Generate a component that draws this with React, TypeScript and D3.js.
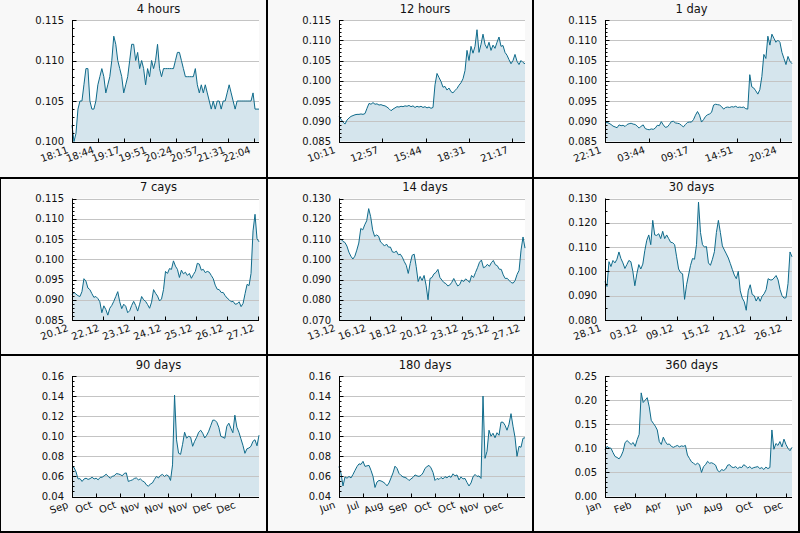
import React from "react";
import * as d3 from "d3";

const FONT = "'DejaVu Sans', Verdana, sans-serif";
const LINE = "#0f6b8b";
const FILL = "#d5e5ed";
const GRID = "#c4c4c4";
const BG = "#f8f8f8";

// Prices in thousandths (0.001), sampled evenly across each window
const hours4 = [102,100,101,104,105,105,107,109,109,105,104,104,105,107,108,109,108,106,107,108,110,113,112,110,109,108,106,107,108,110,112,112,110,111,109,110,109,107,109,108,110,109,110,112,109,108,109,109,109,109,109,109,110,111,111,110,109,108,108,108,108,108,109,107,106,107,106,107,106,105,104,105,104,105,105,104,105,105,106,107,106,105,104,105,105,105,105,105,105,105,105,106,104,104,104];
const hours12 = [91.1,90.5,89.8,89.3,90.3,90.8,91.2,91.4,91.6,91.7,91.7,91.8,91.7,91.9,93.2,94.4,94.2,94.6,94.2,94.3,94.0,94.1,93.9,93.8,93.5,93.1,92.6,93.0,93.3,93.6,93.5,93.7,93.6,93.8,93.7,93.9,93.6,93.8,93.4,93.7,93.5,93.7,93.4,93.6,93.3,93.5,93.2,93.4,99.0,101.8,100.8,99.8,98.4,98.6,97.7,98.2,97.3,97.0,97.6,98.1,98.9,99.5,100.5,102.5,107.5,105.0,108.5,106.8,108.5,112.6,107.0,109.0,111.5,109.0,108.0,109.5,107.5,108.8,108.0,109.5,110.8,108.5,108.7,107.0,106.3,105.2,104.2,105.0,106.5,104.8,104.0,105.0,104.5,104.2];
const day1 = [89.6,89.7,89.5,89.2,88.8,88.6,88.4,89.1,88.9,89.0,88.7,89.2,89.4,89.5,89.3,89.2,88.8,88.3,88.8,89.1,88.2,88.0,87.9,88.1,88.0,88.3,89.0,88.9,89.9,89.1,88.5,88.6,89.2,89.9,90.0,89.6,89.5,89.4,89.0,88.6,89.2,89.7,89.8,89.8,90.4,91.5,92.4,91.5,89.8,90.4,91.2,91.6,91.8,92.2,94.0,94.2,94.1,94.0,93.6,93.0,93.4,93.5,93.4,93.6,93.5,93.7,93.4,93.5,93.4,93.5,93.1,93.0,101.5,98.5,98.2,97.5,96.7,97.8,101.0,106.5,105.5,111.0,108.8,111.5,110.5,109.5,110.0,109.5,107.0,105.5,104.0,106.0,104.8,104.2];
const days7 = [91.2,91.8,91.4,91.0,90.8,92.0,95.2,94.6,92.9,92.5,91.5,90.6,90.8,90.3,89.5,86.8,88.5,87.6,86.2,87.9,88.6,89.6,90.8,92.0,89.5,87.8,88.9,88.4,86.8,87.3,88.6,89.6,88.6,87.2,88.9,90.8,90.0,89.6,88.8,87.9,89.4,92.5,91.6,90.9,89.7,90.2,92.5,97.0,96.5,97.7,97.5,99.6,98.3,97.5,95.5,97.3,96.4,96.8,96.0,96.5,95.3,96.2,97.0,99.0,98.8,97.3,97.5,96.7,97.0,96.8,96.0,95.2,93.6,92.6,92.5,91.8,91.8,91.0,90.4,90.0,89.5,89.6,88.9,89.0,89.5,88.3,89.1,91.5,93.8,93.5,96.5,107.0,111.1,105.1,104.3];
const days14 = [109.4,110.0,108.8,108.3,106.5,103.5,101.5,100.1,101.5,104.5,108.0,115.2,114.5,117.0,119.0,125.0,121.0,114.5,111.3,112.0,111.4,108.5,107.7,106.5,107.5,106.0,106.0,103.6,103.4,104.0,102.2,102.5,101.0,98.8,97.0,93.0,97.9,102.0,102.5,96.5,89.0,91.5,89.5,92.0,87.2,80.0,90.5,91.0,92.8,93.5,95.0,91.0,89.7,88.5,88.0,86.8,87.3,88.6,90.5,88.5,86.8,87.5,89.7,89.0,90.3,89.5,88.6,92.0,91.0,93.5,95.8,98.5,99.6,95.8,96.3,97.5,96.5,98.3,99.4,97.3,96.8,95.1,95.0,92.3,90.5,90.6,89.5,88.5,88.2,89.5,92.5,94.5,104.5,111.0,105.5];
const days30 = [95.8,93.8,104.0,102.0,104.5,103.5,105.0,108.0,105.3,103.5,101.2,102.8,104.5,104.0,100.0,94.1,99.0,102.8,101.0,103.0,108.5,112.8,115.0,111.0,121.0,115.0,114.8,115.5,113.5,116.5,113.5,115.0,113.5,112.0,111.8,111.0,106.0,101.0,99.5,99.0,88.5,94.5,98.5,102.5,105.3,105.0,111.0,128.5,116.0,111.0,110.0,110.2,103.5,102.5,105.0,108.1,116.0,121.0,116.0,110.5,108.8,107.2,105.5,103.2,100.8,98.5,97.0,100.0,92.0,89.0,87.5,84.0,92.0,94.5,90.5,90.0,87.8,89.5,87.7,89.8,90.8,92.5,97.0,96.5,96.5,97.3,98.3,96.5,92.5,90.0,89.0,89.2,95.0,108.0,106.0];
const days90 = [69.2,69.0,64.5,57.5,57.8,55.0,57.5,58.2,57.0,57.8,59.2,57.5,58.2,56.6,59.0,59.2,60.6,62.2,60.0,58.2,60.0,60.6,62.8,62.5,61.8,60.6,63.0,63.5,55.0,55.8,56.5,58.0,58.5,56.6,57.5,55.6,54.5,51.6,50.2,52.5,53.5,57.0,60.0,58.5,61.0,62.0,60.0,61.5,60.5,56.0,71.5,141.0,96.4,83.1,82.0,92.0,104.0,98.0,100.0,99.0,90.0,95.0,99.0,104.0,106.0,103.0,98.3,101.0,105.0,110.5,116.0,116.0,114.0,109.0,100.0,99.0,98.0,110.0,113.0,108.0,103.5,121.0,109.0,104.0,97.5,91.0,83.0,87.5,88.3,90.0,95.0,96.5,90.5,101.0];
const days180 = [69.8,63.0,50.5,59.5,58.2,60.0,58.5,62.0,66.0,69.8,72.5,72.0,75.0,70.0,70.5,71.0,66.0,60.0,49.0,54.5,56.0,55.5,54.5,53.0,50.6,53.5,58.5,63.5,70.2,68.0,63.0,61.0,59.5,59.0,58.0,55.9,57.5,59.0,61.5,60.5,60.0,61.0,63.5,68.0,69.8,71.0,68.5,64.0,56.0,58.0,57.0,59.0,57.5,59.8,58.5,60.5,59.0,62.6,60.5,61.5,56.5,59.5,57.5,58.0,54.0,50.5,53.5,59.5,62.0,60.0,60.5,58.0,140.0,78.0,85.0,106.0,100.0,103.0,98.5,103.5,101.0,114.0,114.0,111.0,106.0,112.0,122.5,110.0,99.0,80.0,90.0,89.0,98.0,98.5];
const days360 = [97,104,101,100,91,83,81,78,84,94,112,116,112,108,112,104,118,129,215,195,200,205,186,158,152,146,138,114,108,123,114,108,109,104,102,104,106,103,105,104,106,86,79,72,69,66,69,66,50,62,66,73,69,70,68,65,54,51,56,54,57,65,66,61,60,62,58,61,60,66,63,59,62,58,60,61,62,58,60,56,61,58,60,138,98,110,106,114,103,119,108,100,95,102];

// Tick labels
const xLab4h = ["18:11", "18:44", "19:17", "19:51", "20:24", "20:57", "21:31", "22:04"];
const xTick4h = [0, 33, 66, 100, 133, 166, 200, 233]; // minutes
const xLab12h = ["10:11", "12:57", "15:44", "18:31", "21:17"];
const xTick12h = [0, 166, 333, 500, 666];
const xLab1d = ["22:11", "03:44", "09:17", "14:51", "20:24"];
const xTick1d = [0, 333, 666, 1000, 1333];
const xLab7d = ["20.12", "22.12", "23.12", "24.12", "25.12", "26.12", "27.12"];
const xTick7d = [0, 1, 2, 3, 4, 5, 6]; // days
const xLab14d = ["13.12", "16.12", "18.12", "20.12", "23.12", "25.12", "27.12"];
const xTick14d = [0, 2.33, 4.67, 7, 9.33, 11.67, 14];
const xLab30d = ["28.11", "03.12", "09.12", "15.12", "21.12", "26.12"];
const xTick30d = [0, 5.8, 11.6, 17.4, 23.2, 29];
const xLab90d = ["Sep", "Oct", "Oct", "Nov", "Nov", "Nov", "Dec", "Dec"];
const xTick90d = [0, 11.5, 23, 34.5, 46, 57.5, 69, 80.5];
const xLab180d = ["Jun", "Jul", "Aug", "Sep", "Oct", "Oct", "Nov", "Dec"];
const xTick180d = [0, 23.2, 46.4, 69.6, 92.8, 116, 139.2, 162.4];
const xLab360d = ["Jan", "Feb", "Apr", "Jun", "Aug", "Oct", "Dec"];
const xTick360d = [0, 58.2, 116.4, 174.6, 232.8, 291, 349.2];

const yTickA = [85, 90, 95, 100, 105, 110, 115];
const yLabA = ["0.085", "0.090", "0.095", "0.100", "0.105", "0.110", "0.115"];
const yTick4h = [100, 105, 110, 115];
const yLab4h = ["0.100", "0.105", "0.110", "0.115"];
const yTick14d = [70, 80, 90, 100, 110, 120, 130];
const yLab14d = ["0.070", "0.080", "0.090", "0.100", "0.110", "0.120", "0.130"];
const yTick30d = [80, 90, 100, 110, 120, 130];
const yLab30d = ["0.080", "0.090", "0.100", "0.110", "0.120", "0.130"];
const yTickB = [40, 60, 80, 100, 120, 140, 160];
const yLabB = ["0.04", "0.06", "0.08", "0.10", "0.12", "0.14", "0.16"];
const yTick360 = [0, 50, 100, 150, 200, 250];
const yLab360 = ["0.00", "0.05", "0.10", "0.15", "0.20", "0.25"];

type Cfg = {
  title: string; values: number[]; span: number;
  xTicks: number[]; xLabels: string[];
  yTicks: number[]; yLabels: string[]; yMinor: number;
};

const panels: Cfg[] = [
  { title: "4 hours", values: hours4, span: 239, xTicks: xTick4h, xLabels: xLab4h, yTicks: yTick4h, yLabels: yLab4h, yMinor: 1 },
  { title: "12 hours", values: hours12, span: 716, xTicks: xTick12h, xLabels: xLab12h, yTicks: yTickA, yLabels: yLabA, yMinor: 1 },
  { title: "1 day", values: day1, span: 1421, xTicks: xTick1d, xLabels: xLab1d, yTicks: yTickA, yLabels: yLabA, yMinor: 1 },
  { title: "7 cays", values: days7, span: 6.03, xTicks: xTick7d, xLabels: xLab7d, yTicks: yTickA, yLabels: yLabA, yMinor: 1 },
  { title: "14 days", values: days14, span: 14.1, xTicks: xTick14d, xLabels: xLab14d, yTicks: yTick14d, yLabels: yLab14d, yMinor: 2 },
  { title: "30 days", values: days30, span: 30, xTicks: xTick30d, xLabels: xLab30d, yTicks: yTick30d, yLabels: yLab30d, yMinor: 5 },
  { title: "90 days", values: days90, span: 90, xTicks: xTick90d, xLabels: xLab90d, yTicks: yTickB, yLabels: yLabB, yMinor: 5 },
  { title: "180 days", values: days180, span: 180, xTicks: xTick180d, xLabels: xLab180d, yTicks: yTickB, yLabels: yLabB, yMinor: 5 },
  { title: "360 days", values: days360, span: 360, xTicks: xTick360d, xLabels: xLab360d, yTicks: yTick360, yLabels: yLab360, yMinor: 10 },
];

const COL_PLOT = [[72, 259], [339, 525], [605, 792]];
const ROW_PLOT = [[20, 141.5], [198.5, 320], [376, 496.5]];
const TITLE_Y = [13, 191, 369];
const COL_BOX = [[0, 266], [268, 264], [534, 264]];
const ROW_BOX = [[0, 177], [179, 175], [356, 175]];

function Panel({ cfg, col, row }: { cfg: Cfg; col: number; row: number }) {
  const [x0, x1] = COL_PLOT[col];
  const [y0, y1] = ROW_PLOT[row];
  const x = d3.scaleLinear().domain([0, cfg.span]).range([x0, x1]);
  const yMin = cfg.yTicks[0];
  const yMax = cfg.yTicks[cfg.yTicks.length - 1];
  const y = d3.scaleLinear().domain([yMin, yMax]).range([y1, y0]);
  const n = cfg.values.length;
  const pts: [number, number][] = cfg.values.map((v, i) => [(i * cfg.span) / (n - 1), v]);
  const area = d3.area<[number, number]>().x((d) => x(d[0])).y0(y(yMin)).y1((d) => y(d[1]));
  const line = d3.line<[number, number]>().x((d) => x(d[0])).y((d) => y(d[1]));
  const minors = d3.range(yMin, yMax + 1e-9, cfg.yMinor);
  const ax = Math.round(x0) + 0.5;
  const ay = Math.round(y1) + 0.5;
  const [bx, bw] = COL_BOX[col];
  const [by, bh] = ROW_BOX[row];
  return (
    <g>
      <rect x={bx} y={by} width={bw} height={bh} fill={BG} />
      <rect x={x0} y={y0} width={x1 - x0} height={y1 - y0} fill="#ffffff" />
      <path d={area(pts) || ""} fill={FILL} />
      {cfg.yTicks.slice(1).map((t) => (
        <line key={"g" + t} x1={ax} x2={x1} y1={Math.round(y(t)) + 0.5} y2={Math.round(y(t)) + 0.5} stroke={GRID} strokeWidth={1} />
      ))}
      <path d={line(pts) || ""} fill="none" stroke={LINE} strokeWidth={1} strokeLinejoin="round" />
      {minors.map((t) => (
        <line key={"m" + t} x1={ax} x2={ax + 2} y1={Math.round(y(t)) + 0.5} y2={Math.round(y(t)) + 0.5} stroke="#000" strokeWidth={1} />
      ))}
      {cfg.yTicks.map((t, i) => (
        <g key={"y" + t}>
          <line x1={ax} x2={ax + 4} y1={Math.round(y(t)) + 0.5} y2={Math.round(y(t)) + 0.5} stroke="#000" strokeWidth={1} />
          <text x={x0 - 8} y={y(t)} dy="0.35em" textAnchor="end" fontFamily={FONT} fontSize={10} fill="#111">
            {cfg.yLabels[i]}
          </text>
        </g>
      ))}
      <line x1={ax} x2={ax} y1={y0} y2={ay} stroke="#000" strokeWidth={1} />
      <line x1={ax} x2={x1} y1={ay} y2={ay} stroke="#000" strokeWidth={1} />
      {cfg.xTicks.map((t, i) => (
        <g key={"x" + i}>
          <line x1={Math.round(x(t)) + 0.5} x2={Math.round(x(t)) + 0.5} y1={ay} y2={ay - 4} stroke="#000" strokeWidth={1} />
          <text transform={`translate(${x(t) - 3},${ay + 10}) rotate(-20)`} textAnchor="end" fontFamily={FONT} fontSize={10} fill="#111">
            {cfg.xLabels[i]}
          </text>
        </g>
      ))}
      <text x={(x0 + x1) / 2 - 7} y={TITLE_Y[row]} textAnchor="middle" fontFamily={FONT} fontSize={11.5} fill="#111">
        {cfg.title}
      </text>
    </g>
  );
}

export default function App() {
  return (
    <div style={{ position: "absolute", left: 0, top: 0 }}>
      <svg width={800} height={533} style={{ display: "block" }}>
        <rect x={0} y={0} width={800} height={533} fill="#ffffff" />
        {panels.map((cfg, i) => (
          <Panel key={cfg.title} cfg={cfg} col={i % 3} row={Math.floor(i / 3)} />
        ))}
        <rect x={266} y={0} width={2} height={533} fill="#000" />
        <rect x={532} y={0} width={2} height={533} fill="#000" />
        <rect x={798} y={0} width={2} height={533} fill="#000" />
        <rect x={0} y={177} width={800} height={2} fill="#000" />
        <rect x={0} y={354} width={800} height={2} fill="#000" />
        <rect x={0} y={531} width={800} height={2} fill="#000" />
        <rect x={0} y={177} width={1} height={356} fill="#000" />
      </svg>
    </div>
  );
}
